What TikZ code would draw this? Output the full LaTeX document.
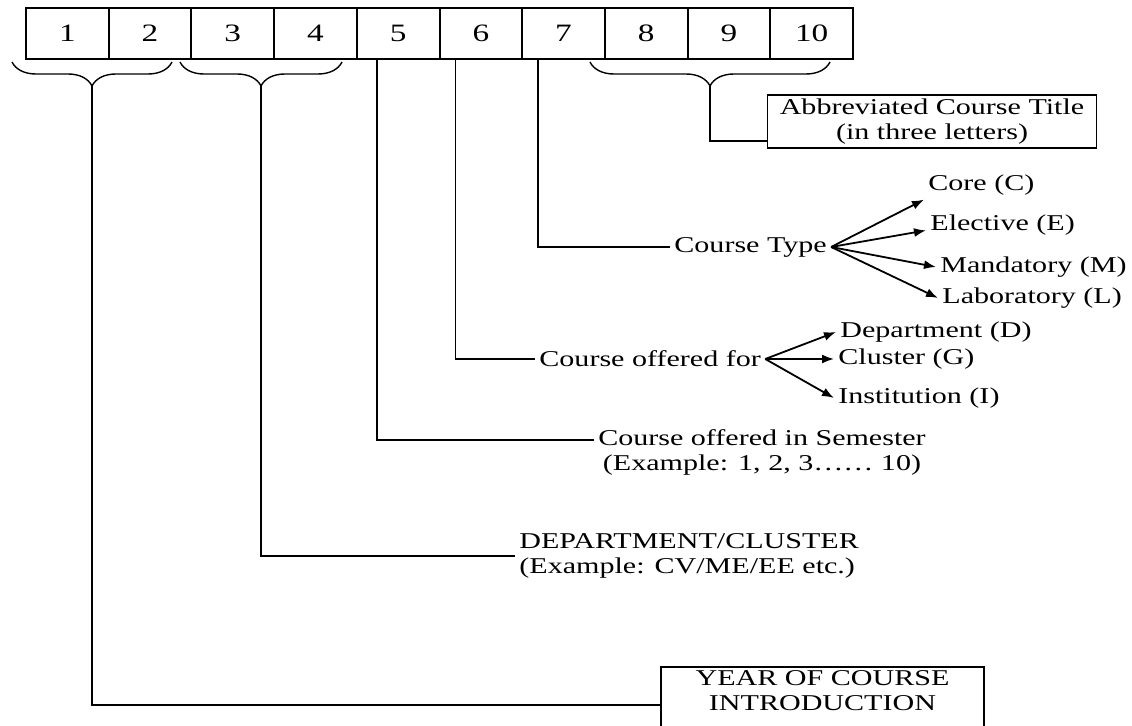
\documentclass[tikz,border=0pt]{standalone}
\usepackage{fontspec}
\setmainfont{Liberation Serif}[FakeStretch=1.33]
\usetikzlibrary{decorations.pathreplacing,arrows.meta}

\begin{document}
\begin{tikzpicture}[x=0.5pt, y=-0.5pt]
    \tikzstyle{cell} = [rectangle, draw, line width=1pt, inner sep=0pt, minimum width=41.35pt, minimum height=25.5pt, font=\fontsize{12.5}{14}\selectfont]
    \tikzstyle{txt} = [inner sep=2pt, align=center, font=\fontsize{11.3}{12.5}\selectfont]
    \tikzstyle{framed} = [txt, draw, line width=0.8pt]
    \tikzstyle{curly} = [decorate, decoration={brace, mirror, amplitude=12pt}, line width=0.7pt]
    \tikzstyle{wire} = [line width=0.8pt]
    \tikzstyle{branch} = [line width=0.9pt, -{Latex[length=6pt, width=4.5pt]}]

    \useasboundingbox (0,0) rectangle (1132,726);

    % Code digits
    \foreach \i in {1,...,10}
        \node[cell] (b\i) at ({26+82.7*(\i-0.5)}, 33.5) {\i};

    % Braces
    \draw[curly] (12,62) -- (172,62);
    \draw[curly] (180,62) -- (342,62);
    \draw[curly] (590,62) -- (830,62);
    \coordinate (t12) at (92,86);
    \coordinate (t34) at (261,86);
    \coordinate (t810) at (710,86);

    % Meanings
    \node[framed, minimum width=164.5pt, minimum height=26.5pt] (abbr) at (932,121.5) {Abbreviated Course Title\\(in three letters)};
    \node[txt, anchor=west] (ctype) at (670,247) {Course Type};
    \node[txt, anchor=west] (core) at (924,185) {Core (C)};
    \node[txt, anchor=west] (elec) at (926,225) {Elective (E)};
    \node[txt, anchor=west] (mand) at (936,267) {Mandatory (M)};
    \node[txt, anchor=west] (lab) at (938,298) {Laboratory (L)};
    \node[txt, anchor=west] (offer) at (535,359) {Course offered for};
    \node[txt, anchor=west] (ofdept) at (836,332) {Department (D)};
    \node[txt, anchor=west] (ofclus) at (834,359) {Cluster (G)};
    \node[txt, anchor=west] (ofinst) at (834,398) {Institution (I)};
    \node[txt] (sem) at (762,452.5) {Course offered in Semester\\(Example: 1, 2, 3\ldots\ldots{} 10)};
    \node[txt, align=left, anchor=west] (dept) at (515,556) {DEPARTMENT/CLUSTER\\(Example: CV/ME/EE etc.)};
    \node[framed, minimum width=161.5pt, anchor=north] (year) at (822.5,666) {YEAR OF COURSE\\INTRODUCTION\\[2pt]};

    % Leaders
    \draw[wire] (t810) |- ([yshift=-9.75pt]abbr.west);
    \draw[wire] ([xshift=8.5pt]b7.south west) |- (ctype.west);
    \draw[wire] ([xshift=8.5pt]b6.south west) |- (offer.west);
    \draw[wire] ([xshift=10.5pt]b5.south west) |- ([yshift=6.25pt]sem.west);
    \draw[wire] (t34) |- (dept.west);
    \draw[wire] (t12) |- (year.west);

    % Choices
    \draw[branch] (ctype.east) -- (core.south west);
    \draw[branch] (ctype.east) -- (elec.base west);
    \draw[branch] (ctype.east) -- (mand.west);
    \draw[branch] (ctype.east) -- (lab.west);
    \draw[branch] (offer.east) -- (ofdept.west);
    \draw[branch] (offer.east) -- (ofclus.west);
    \draw[branch] (offer.east) -- (ofinst.west);
\end{tikzpicture}
\end{document}
